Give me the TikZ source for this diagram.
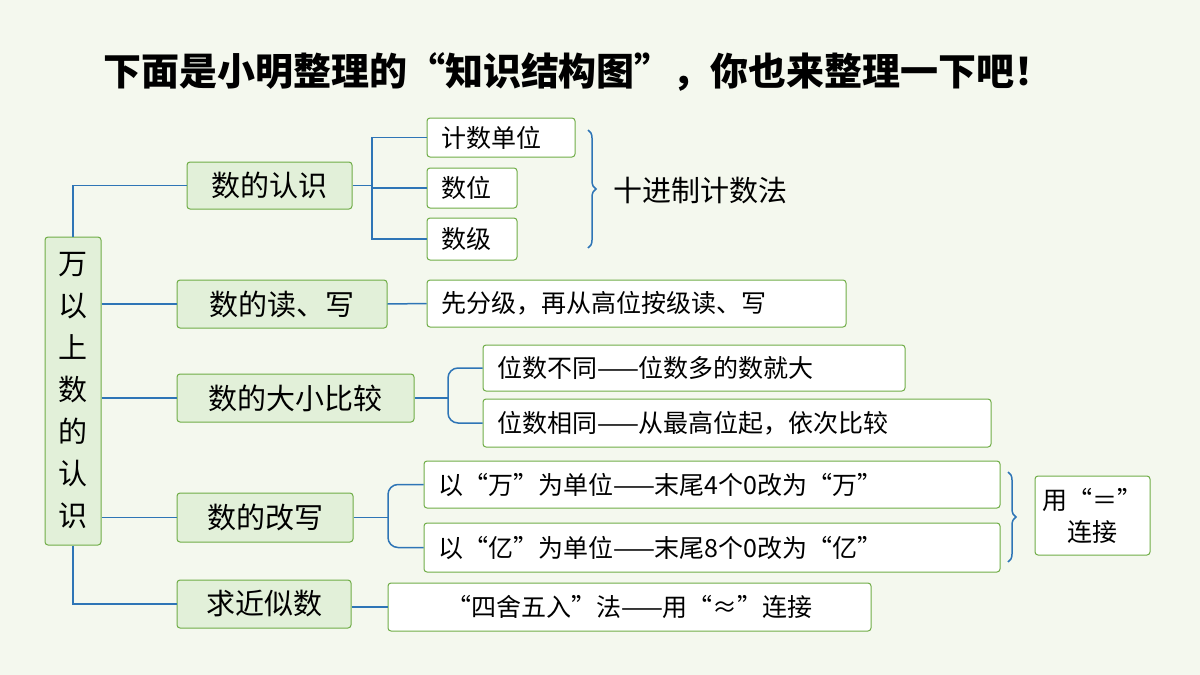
\documentclass[tikz,border=0pt]{standalone}
\usepackage{fontspec}
\setmainfont{Noto Sans CJK SC}
\usetikzlibrary{decorations.pathreplacing}
\definecolor{bg}{HTML}{F4F8EE}
\definecolor{gfill}{HTML}{E2F0D9}
\definecolor{gline}{HTML}{70AD47}
\definecolor{bl}{HTML}{2E75B6}
\begin{document}
\begin{tikzpicture}[x=1pt,y=-1pt,
 main/.style={draw=gline,fill=gfill,rounded corners=3pt,line width=1pt,font=\fontsize{29}{31}\selectfont},
 leaf/.style={draw=gline,fill=white,rounded corners=3pt,line width=1pt,font=\fontsize{25}{28}\selectfont,inner xsep=14pt,text width=#1-28pt,align=left},
 con/.style={draw=bl,line width=1.5pt},
 br/.style={bl,line width=1.5pt,decoration={brace,amplitude=8pt},decorate}]
\fill[bg] (0,0) rectangle (1200,675);
\useasboundingbox (0,0) rectangle (1200,675);
\node[font=\fontsize{38}{42}\selectfont\bfseries] (title) at (578,72) {下面是小明整理的“知识结构图”，你也来整理一下吧！};
\node[main,minimum width=56pt,minimum height=308pt,align=center,font=\fontsize{29}{42}\selectfont] (root) at (73,391) {万\\以\\上\\数\\的\\认\\识};
\node[main,minimum width=165pt,minimum height=47pt] (a) at (269.5,185.5) {数的认识};
\node[leaf=148pt,minimum height=39pt] (a1) at (501,137.5) {计数单位};
\node[leaf=90pt,minimum height=40pt] (a2) at (472,188) {数位};
\node[leaf=90pt,minimum height=42pt] (a3) at (472,239) {数级};
\draw[br] (588,130) -- (588,248);
\node[anchor=west,font=\fontsize{29}{32}\selectfont] (a4) at (610,191) {十进制计数法};
\node[main,minimum width=210pt,minimum height=48pt] (b) at (282,304) {数的读、写};
\node[leaf=419pt,minimum height=47pt] (b1) at (636.5,303.5) {先分级，再从高位按级读、写};
\node[main,minimum width=237pt,minimum height=48pt] (c) at (295.5,398) {数的大小比较};
\node[leaf=422pt,minimum height=46pt] (c1) at (694,368) {位数不同——位数多的数就大};
\node[leaf=508pt,minimum height=48pt] (c2) at (737,423) {位数相同——从最高位起，依次比较};
\node[main,minimum width=176pt,minimum height=49pt] (d) at (265,517.5) {数的改写};
\node[leaf=576pt,minimum height=47pt] (d1) at (712,484.5) {以“万”为单位——末尾4个0改为“万”};
\node[leaf=576pt,minimum height=49pt] (d2) at (712,547.5) {以“亿”为单位——末尾8个0改为“亿”};
\draw[br] (1008,472) -- (1008,562);
\node[draw=gline,fill=white,rounded corners=3pt,line width=1pt,minimum width=115pt,minimum height=79pt,align=center,font=\fontsize{25}{32}\selectfont] (d3) at (1092.5,515.5) {用“＝”\\连接};
\node[main,minimum width=174pt,minimum height=48pt] (e) at (264,604) {求近似数};
\node[leaf=483pt,minimum height=48pt,align=center] (e1) at (629.5,607) {“四舍五入”法——用“≈”连接};
\draw[con] (root.north) |- (a.west);
\draw[con] (root.south) |- (e.west);
\draw[con] (root.east |- b.west) -- (b.west);
\draw[con] (root.east |- c.west) -- (c.west);
\draw[con] (root.east |- d.west) -- (d.west);
\coordinate (ja) at (372,185.5);
\draw[con] (a.east) -- (ja);
\draw[con] (a1.west) -| (ja) |- (a3.west);
\draw[con] (ja) |- (a2.west);
\draw[con] (b.east) -- (b1.west);
\coordinate (jc) at (448,398);
\draw[con] (c.east) -- (jc);
\draw[con,rounded corners=10pt] (c1.west) -| (jc) |- (c2.west);
\coordinate (jd) at (388,517.5);
\draw[con] (d.east) -- (jd);
\draw[con,rounded corners=10pt] (d1.west) -| (jd) |- (d2.west);
\draw[con] (e.east |- e1.west) -- (e1.west);
\end{tikzpicture}
\end{document}
